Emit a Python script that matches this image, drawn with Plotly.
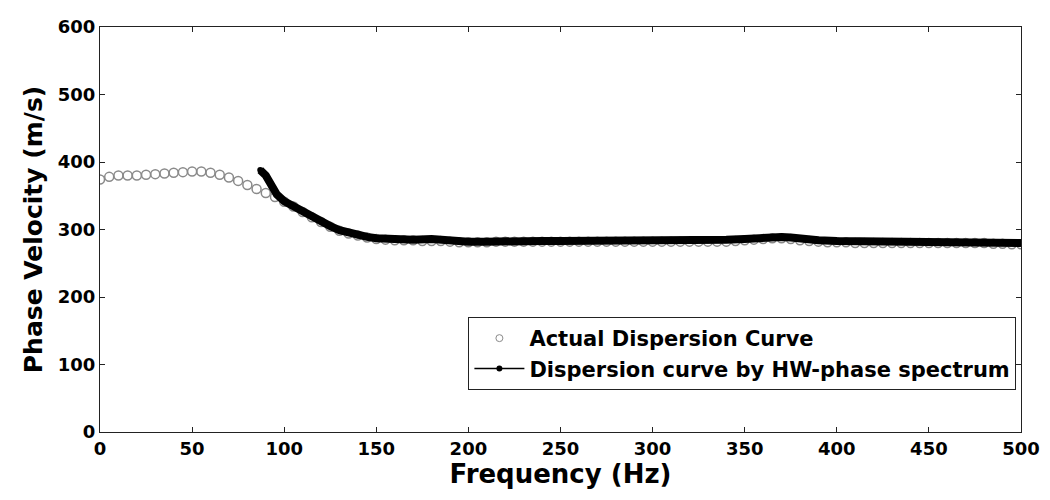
import plotly.graph_objects as go

# ---- data ----
actual_freq = list(range(0, 505, 5))
actual_vel = [
    374, 378, 380, 380, 380, 381, 382, 383, 384, 385,   # 0-45
    386, 386, 384, 381, 377, 372, 366, 360, 354, 348,   # 50-95
    341, 334, 326, 318, 311, 304, 298, 294, 291, 288,   # 100-145
    286, 285, 284, 284, 284, 283, 283, 283, 282, 281,   # 150-195
    281, 281, 281, 282, 282, 282, 282, 282, 282, 282,   # 200-245
    282, 282, 282, 282, 282, 282, 282, 282, 282, 282,   # 250-295
    282, 282, 282, 282, 282, 282, 282, 282, 282, 283,   # 300-345
    284, 285, 286, 287, 287, 286, 284, 283, 282, 281,   # 350-395
    281, 281, 280, 280, 280, 280, 280, 280, 280, 280,   # 400-445
    280, 280, 280, 280, 280, 280, 280, 279, 279, 278,   # 450-495
    278,                                                # 500
]

hw_freq = [87, 90, 93, 96, 100, 105, 110, 115, 120, 125, 130, 135, 140, 145,
           150, 160, 170, 180, 190, 200, 210, 220, 230, 240, 250, 260, 270,
           280, 290, 300, 310, 320, 330, 340, 350, 360, 365, 370, 375, 380,
           390, 400, 420, 440, 460, 480, 500]
hw_vel = [388, 380, 366, 352, 342, 334, 327, 319, 312, 305, 299, 295, 291, 289,
          287, 285, 285, 286, 283, 282, 282, 283, 283, 283, 283, 283, 283,
          283, 283, 283, 284, 284, 284, 285, 286, 288, 289, 289, 288, 286,
          284, 283, 282, 282, 281, 281, 280]

x_ticks = [0, 50, 100, 150, 200, 250, 300, 350, 400, 450, 500]
y_ticks = [0, 100, 200, 300, 400, 500, 600]

actual_name = "Actual Dispersion Curve"
hw_name = "Dispersion curve by HW-phase spectrum"

FONT = "DejaVu Sans, Arial, sans-serif"
GRAY = "#8a8a8a"

fig = go.Figure()
fig.add_trace(go.Scatter(
    x=actual_freq, y=actual_vel, mode="markers", name=actual_name,
    showlegend=False,
    marker=dict(symbol="circle-open", size=9, color=GRAY,
                line=dict(width=1.5, color=GRAY)),
))
fig.add_trace(go.Scatter(
    x=hw_freq, y=hw_vel, mode="lines+markers", name=hw_name,
    showlegend=False,
    line=dict(color="black", width=8),
    marker=dict(symbol="circle", size=6, color="black"),
))
# legend-only entries (thin symbols like the original legend)
fig.add_trace(go.Scatter(
    x=[None], y=[None], mode="markers", name=actual_name,
    marker=dict(symbol="circle-open", size=7, color=GRAY,
                line=dict(width=1, color=GRAY)),
))
fig.add_trace(go.Scatter(
    x=[None], y=[None], mode="lines+markers", name=hw_name,
    line=dict(color="black", width=1.5),
    marker=dict(symbol="circle", size=6, color="black"),
))

axis_common = dict(
    showgrid=False, zeroline=False, showline=True, linecolor="#222222",
    linewidth=1, mirror="ticks", ticks="inside", ticklen=5,
    tickcolor="#222222", ticklabeloverflow="allow", automargin=False,
    tickfont=dict(family=FONT, size=18, color="black", weight="bold"),
)
fig.update_xaxes(range=[0, 500], tickvals=x_ticks,
                 title=dict(text="Frequency (Hz)", standoff=2,
                            font=dict(family=FONT, size=26, color="black",
                                      weight="bold")),
                 **axis_common)
fig.update_yaxes(range=[0, 600], tickvals=y_ticks,
                 title=dict(text="Phase Velocity (m/s)", standoff=8,
                            font=dict(family=FONT, size=25, color="black",
                                      weight="bold")),
                 **axis_common)

# the page body adds an 8 px margin, so the figure is 16 px smaller
fig.update_layout(
    width=1034, height=484,
    margin=dict(l=92, r=21, t=19, b=60, autoexpand=False),
    plot_bgcolor="white", paper_bgcolor="white",
    showlegend=True,
    legend=dict(x=0.995, y=0.284, xanchor="right", yanchor="top",
                bgcolor="white", bordercolor="#222222", borderwidth=1,
                font=dict(family=FONT, size=21, color="black", weight="bold"),
                itemwidth=50),
)

fig.write_html("out.html")
